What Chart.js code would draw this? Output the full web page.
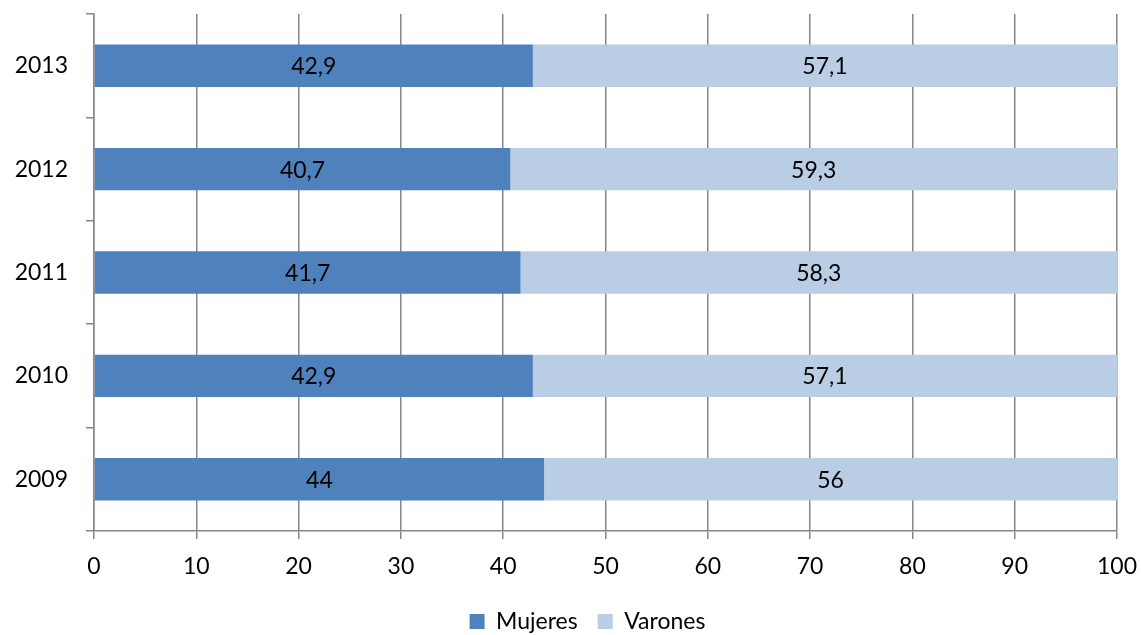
<!DOCTYPE html>
<html>
<head>
<meta charset="utf-8">
<script src="https://cdn.jsdelivr.net/npm/chart.js@4/dist/chart.umd.min.js"></script>
<style>
  html, body { margin: 0; padding: 0; background: #fff; }
  #wrap { width: 1141px; height: 635px; }
</style>
</head>
<body>
<div id="wrap"><canvas id="grafico"></canvas></div>
<script>
// datos
const anios = ['2013', '2012', '2011', '2010', '2009'];
const mujeres = [42.9, 40.7, 41.7, 42.9, 44];
const varones = [57.1, 59.3, 58.3, 57.1, 56];
const ticksX = [0, 10, 20, 30, 40, 50, 60, 70, 80, 90, 100];

const fuente = "Lato, 'Open Sans', sans-serif";
const gris = '#868686';

// etiquetas dentro de las barras
const etiquetas = {
  id: 'etiquetas',
  afterDatasetsDraw(chart) {
    const ctx = chart.ctx;
    ctx.save();
    ctx.font = '23px ' + fuente;
    ctx.fillStyle = '#000';
    ctx.textAlign = 'center';
    ctx.textBaseline = 'middle';
    chart.data.datasets.forEach((ds, i) => {
      chart.getDatasetMeta(i).data.forEach((bar, j) => {
        const x = (bar.x + bar.base) / 2;
        ctx.fillText(String(ds.data[j]).replace('.', ','), x, bar.y + 1);
      });
    });
    ctx.restore();
  }
};

// la leyenda del original está algo corrida a la derecha
const moverLeyenda = {
  id: 'moverLeyenda',
  afterLayout(chart) {
    if (chart.legend) {
      chart.legend.left += 29;
      chart.legend.right += 29;
    }
  }
};

new Chart(document.getElementById('grafico'), {
  type: 'bar',
  data: {
    labels: anios,
    datasets: [
      { label: 'Mujeres', data: mujeres, backgroundColor: '#4F81BD' },
      { label: 'Varones', data: varones, backgroundColor: '#B9CDE5' }
    ]
  },
  options: {
    indexAxis: 'y',
    responsive: true,
    maintainAspectRatio: false,
    animation: false,
    devicePixelRatio: 1,
    layout: { padding: { left: 0, right: 24, top: 14, bottom: -8 } },
    datasets: { bar: { barPercentage: 0.41, categoryPercentage: 1 } },
    scales: {
      x: {
        stacked: true,
        min: 0,
        max: 100,
        afterBuildTicks: s => { s.ticks = ticksX.map(v => ({ value: v })); },
        grid: { color: gris, lineWidth: 1.5, tickLength: 8, drawTicks: true },
        border: { color: gris, width: 1.5 },
        ticks: { color: '#000', font: { size: 23, family: fuente }, padding: 14 },
        afterFit: s => { s.height = 59; s.paddingLeft = 0; s.paddingRight = 0; }
      },
      y: {
        stacked: true,
        grid: { offset: true, drawOnChartArea: false, color: gris, lineWidth: 1.5, tickLength: 8 },
        border: { color: gris, width: 1.5 },
        ticks: { color: '#000', font: { size: 23, family: fuente }, padding: 18 },
        afterFit: s => { s.width = 94; s.paddingTop = 0; s.paddingBottom = 0; }
      }
    },
    plugins: {
      legend: {
        position: 'bottom',
        labels: {
          color: '#000',
          font: { size: 23, family: fuente },
          boxWidth: 15,
          boxHeight: 15,
          padding: 20
        }
      },
      tooltip: { enabled: false }
    }
  },
  plugins: [etiquetas, moverLeyenda]
});
</script>
</body>
</html>
